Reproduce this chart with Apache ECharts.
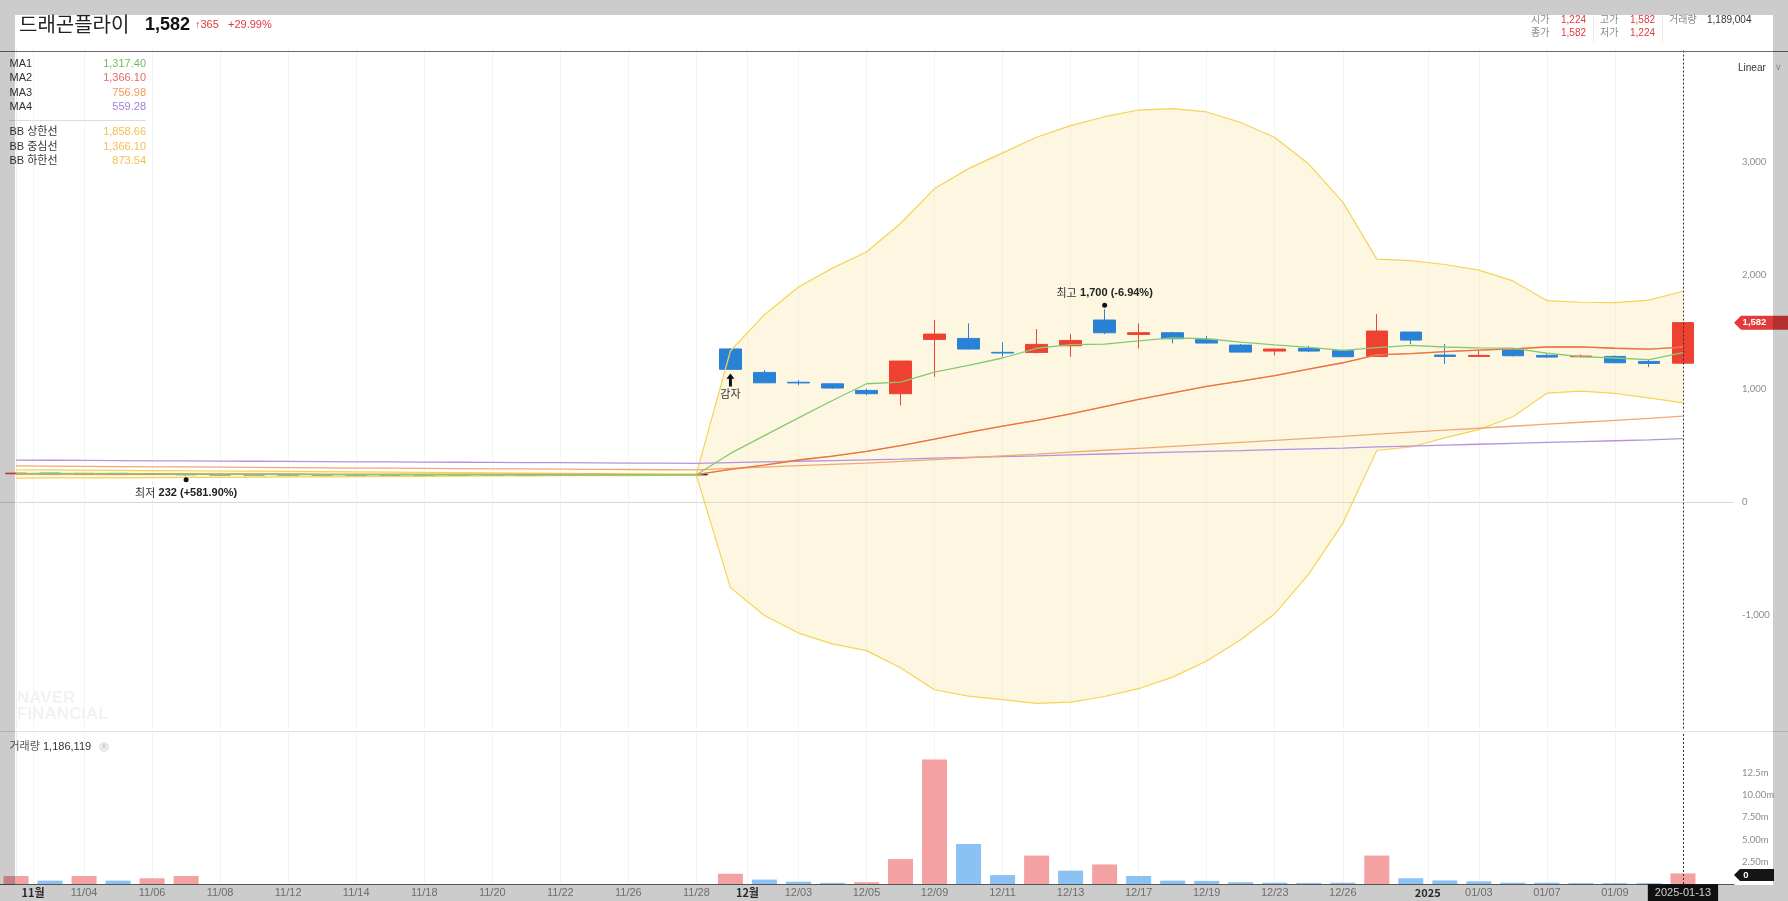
<!DOCTYPE html>
<html><head><meta charset="utf-8">
<script src="https://cdn.jsdelivr.net/npm/echarts@6/dist/echarts.min.js"></script>
<style>html,body{margin:0;padding:0;background:#fff;}#c{width:1788px;height:901px;}</style>
</head><body><div id="c"></div>
<script>
// ---------------- DATA ----------------
const dates = ['10/31','11/01','11/04','11/05','11/06','11/07','11/08','11/11','11/12','11/13','11/14','11/15','11/18','11/19','11/20','11/21','11/22','11/25','11/26','11/27','11/28','11/29','12/02','12/03','12/04','12/05','12/06','12/09','12/10','12/11','12/12','12/13','12/16','12/17','12/18','12/19','12/20','12/23','12/24','12/26','12/27','12/30','01/02','01/03','01/06','01/07','01/08','01/09','01/10','01/13'];
// [open, close, low, high]
const candles = [
 [248,254,245,258],[254,247,245,256],[246,252,244,256],[252,245,241,253],[246,243,238,249],[243,240,232,245],
 [240,240,240,240],[240,240,240,240],[240,240,240,240],[240,240,240,240],[240,240,240,240],[240,240,240,240],
 [240,240,240,240],[240,240,240,240],[240,240,240,240],[240,240,240,240],[240,240,240,240],[240,240,240,240],
 [240,240,240,240],[240,240,240,240],[240,240,240,240],
 [1350,1170,1165,1355],[1143,1051,1050,1163],[1056,1050,1030,1075],[1042,1005,998,1042],[984,955,940,1000],
 [955,1243,852,1243],[1434,1481,1104,1605],[1443,1349,1345,1575],[1320,1314,1281,1408],[1319,1390,1310,1525],
 [1378,1425,1281,1481],[1605,1493,1481,1700],[1478,1493,1355,1575],[1493,1440,1399,1501],[1434,1402,1399,1465],
 [1384,1322,1322,1393],[1331,1349,1293,1349],[1355,1331,1322,1378],[1334,1281,1281,1346],[1284,1508,1284,1657],
 [1499,1428,1393,1499],[1296,1284,1216,1393],[1284,1293,1284,1334],[1346,1290,1284,1355],[1293,1278,1272,1305],
 [1281,1287,1275,1300],[1284,1228,1228,1293],[1240,1222,1190,1258],[1224,1582,1224,1582]
];
const volumes = [900000,380000,900000,380000,640000,900000,
 0,0,0,0,0,0,0,0,0,0,0,0,0,0,0,
 1150000,500000,260000,130000,200000,2800000,14000000,4500000,1000000,3200000,
 1500000,2200000,900000,380000,350000,200000,150000,120000,150000,3200000,
 640000,400000,300000,150000,150000,100000,100000,100000,1190000];
const volumeUp = [1,0,1,0,1,1, 0,0,0,0,0,0,0,0,0,0,0,0,0,0,0,
 1,0,0,0,1,1,1,0,0,1, 0,1,0,0,0,0,0,0,0,1, 0,0,0,0,0,0,0,0,1];
const ma1 = [250,251,250,249,247,245,244,243,242,241,240,240,240,240,240,240,240,240,240,240,240,
 428,585,742,895,1043,1058,1145,1204,1270,1356,1388,1393,1422,1447,1440,1410,1385,1363,1338,1362,
 1381,1367,1360,1358,1312,1283,1270,1256,1317];
const ma2 = [247,247,247,246,246,246,245,245,245,244,244,244,243,243,243,242,242,242,241,241,241,
 288,325,370,405,447,497,554,614,668,720,777,841,905,962,1019,1066,1114,1172,1228,1298,
 1308,1327,1339,1350,1367,1369,1356,1349,1366];
const ma3 = [318,316,314,312,310,309,307,305,303,301,299,298,296,294,292,291,289,288,286,284,282,
 296,308,320,331,342,357,374,390,406,422,439,456,473,490,508,526,544,561,579,598,
 616,633,650,668,686,703,720,737,757];
const ma4 = [369,368,366,365,363,362,360,359,357,356,354,353,351,350,349,347,346,345,343,342,340,
 347,353,359,365,371,378,386,393,400,407,415,423,431,439,446,453,461,468,475,485,
 493,501,509,517,525,533,540,548,559];
const bbUpper = [284,282,281,279,277,275,273,271,269,267,265,263,261,259,257,255,253,251,250,248,247,
 1332,1652,1897,2063,2206,2457,2765,2941,3080,3218,3320,3399,3458,3470,3441,3348,3215,2981,2645,2142,
 2130,2095,2045,1950,1777,1762,1758,1780,1859];
const bbLower = [210,212,213,213,215,217,217,219,221,221,223,225,225,227,229,229,231,233,232,234,235,
 -756,-1002,-1157,-1253,-1312,-1463,-1657,-1713,-1744,-1778,-1766,-1717,-1648,-1546,-1403,-1216,-987,-637,-189,454,
 485,565,638,752,960,977,957,918,874];
const priceTicks = [-1000,0,1000,2000,3000];
const volumeTickLabels = {2500000:'2.50m',5000000:'5.00m',7500000:'7.50m',10000000:'10.00m',12500000:'12.5m'};
const axisLabelDates = ['11/04','11/06','11/08','11/12','11/14','11/18','11/20','11/22','11/26','11/28','12/03','12/05','12/09','12/11','12/13','12/17','12/19','12/23','12/26','01/03','01/07','01/09'];
const monthLabels = {'11/01':'11월','12/02':'12월','01/02':'2025'};
const lastDateLabel = {'01/13':'2025-01-13'};
const highMark = {date:'12/16', value:1700, text:'1,700 (-6.94%)'};
const lowMark = {date:'11/07', value:232, text:'232 (+581.90%)'};
const eventMark = {date:'11/29', value:1165, text:'감자'};
const legendItems = [['MA1','1,317.40','#6cbf5a'],['MA2','1,366.10','#e86a6a'],['MA3','756.98','#f09a5c'],['MA4','559.28','#a57fd8']];
const bbLegendItems = [['BB 상한선','1,858.66','#f2c14e'],['BB 중심선','1,366.10','#f2c14e'],['BB 하한선','873.54','#f2c14e']];
const stockName = '드래곤플라이';
const lastPrice = '1,582', change = '365', changePct = '+29.99%';
const infoRow1 = [['시가','1,224'],['고가','1,582'],['거래량','1,189,004']];
const infoRow2 = [['종가','1,582'],['저가','1,224']];
const volumeTitle = ['거래량','1,186,119'];

// ---------------- BUILD ----------------
const FONT = '"Liberation Sans","Noto Sans CJK KR",sans-serif';
const cats = dates.concat(['']);
const xMax = cats.length - 0.5;
const gridLineX = [];
dates.forEach((d,i)=>{ if (monthLabels[d]) gridLineX.push(i-0.5); else if (axisLabelDates.includes(d)) gridLineX.push(i); });
const lastIdx = dates.length - 1;
const UP='#ee4132', DOWN='#2a82d7';
const gridLineStyle = {color:'#f3f4f6', width:1, type:'solid'};

function lineSeries(name, data, color, width){
  return {name, type:'line', xAxisIndex:0, yAxisIndex:0, data, symbol:'none', silent:true,
    lineStyle:{color, width:width||1.3}, z:4};
}
const graphics = [];
function txt(x,y,text,font,fill,align){
  graphics.push({type:'text', x, y, z:10, silent:true, style:{text, font, fill, textAlign:align||'left', textVerticalAlign:'middle', align:align||'left', verticalAlign:'middle'}});
}
// separators
graphics.push({type:'line', z:10, silent:true, shape:{x1:0,y1:51.5,x2:1788,y2:51.5}, style:{stroke:'#6a6a6a', lineWidth:1}});
graphics.push({type:'line', z:10, silent:true, shape:{x1:0,y1:731.5,x2:1788,y2:731.5}, style:{stroke:'#dfe3e8', lineWidth:1}});
graphics.push({type:'line', z:10, silent:true, shape:{x1:1593.5,y1:15,x2:1593.5,y2:42}, style:{stroke:'#eeeeee', lineWidth:1}});
graphics.push({type:'line', z:10, silent:true, shape:{x1:1662.5,y1:15,x2:1662.5,y2:42}, style:{stroke:'#eeeeee', lineWidth:1}});
// header
txt(19,24,stockName,'20px "Noto Sans CJK KR"','#222');
txt(145,25,lastPrice,'bold 18px "Liberation Sans"','#111');
txt(195,25,'↑'+change,'11px '+FONT,'#e0393e');
txt(228,25,changePct,'11px '+FONT,'#e0393e');
const infoX = [1531,1600,1669], valX = [1561,1630,1707];
infoRow1.forEach((p,i)=>{ txt(infoX[i],20,p[0],'10px '+FONT,'#8a8a8a'); txt(valX[i],20,p[1],'10px '+FONT,i===2?'#333':'#e0393e'); });
infoRow2.forEach((p,i)=>{ txt(infoX[i],33,p[0],'10px '+FONT,'#8a8a8a'); txt(valX[i],33,p[1],'10px '+FONT,'#e0393e'); });
// legend
const legY = [64,78.3,92.7,106.7], bbY = [132.3,146.7,161];
legendItems.forEach((l,i)=>{ txt(9.5,legY[i],l[0],'11px '+FONT,'#333'); txt(146,legY[i],l[1],'11px '+FONT,l[2],'right'); });
graphics.push({type:'line', z:10, silent:true, shape:{x1:9,y1:120.5,x2:146,y2:120.5}, style:{stroke:'#dddddd', lineWidth:1}});
bbLegendItems.forEach((l,i)=>{ txt(9.5,bbY[i],l[0],'11px '+FONT,'#333'); txt(146,bbY[i],l[1],'11px '+FONT,l[2],'right'); });
txt(1738,68,'Linear','10px '+FONT,'#333');
txt(1775,68,'∨','9px "DejaVu Sans"','#aaa');
// watermark
txt(17,698,'NAVER','bold 17px "Liberation Sans"','#f2f2f2');
txt(17,714,'FINANCIAL','bold 17px "Liberation Sans"','#f2f2f2');
// volume title
txt(9.5,747,volumeTitle[0],'11px '+FONT,'#555');
txt(43,747,volumeTitle[1],'11px '+FONT,'#333');
graphics.push({type:'circle', z:10, silent:true, shape:{cx:104,cy:747,r:4.5}, style:{fill:'#f0f0f0', stroke:'#e0e0e0'}});
txt(104,747,'×','8px "DejaVu Sans"','#bbb','center');
// outer gray overlays
const ov = 'rgba(0,0,0,0.2)';
graphics.push({type:'rect', z:100, silent:true, shape:{x:0,y:0,width:1788,height:15}, style:{fill:ov}});
graphics.push({type:'rect', z:100, silent:true, shape:{x:0,y:15,width:15,height:886}, style:{fill:ov}});
graphics.push({type:'rect', z:100, silent:true, shape:{x:1773,y:15,width:15,height:886}, style:{fill:ov}});
graphics.push({type:'rect', z:100, silent:true, shape:{x:15,y:885,width:1758,height:16}, style:{fill:ov}});

const labelRich = {
  a:{color:'#333', fontSize:11, fontFamily:'"Noto Sans CJK KR"'},
  b:{color:'#222', fontSize:11, fontWeight:'bold', fontFamily:'"Liberation Sans"'}
};
const arrowPath = 'path://M4,0 L8,5 L5.5,5 L5.5,12 L2.5,12 L2.5,5 L0,5 Z';

const option = {
  animation:false,
  backgroundColor:'#ffffff',
  graphic: graphics,
  grid:[
    {left:-1, right:54, top:48.6, height:680, outerBoundsMode:'none'},
    {left:-1, right:54, top:732, height:152, outerBoundsMode:'none'}
  ],
  xAxis:[
    {type:'category', gridIndex:0, data:cats, boundaryGap:true, axisLine:{show:false}, axisTick:{show:false}, axisLabel:{show:false}, splitLine:{show:false}},
    {type:'category', gridIndex:1, data:cats, boundaryGap:true, axisLine:{show:true, lineStyle:{color:'#555', width:1}}, axisTick:{show:false}, splitLine:{show:false},
      axisLabel:{interval:0, margin:0, hideOverlap:false,
        formatter:(v)=>{ if (monthLabels[v]) return '{m|'+monthLabels[v]+'}'; if (lastDateLabel[v]) return '{d|'+lastDateLabel[v]+'}'; if (axisLabelDates.includes(v)) return '{n|'+v+'}'; return ''; },
        rich:{
          n:{color:'#8a8a8a', fontSize:11, fontFamily:'"Liberation Sans Narrow","Liberation Sans"', padding:[3,0,0,0]},
          m:{color:'#333', fontSize:11, fontWeight:'bold', fontFamily:'"Liberation Sans Narrow","Noto Sans CJK KR"', padding:[3,34,0,0]},
          d:{color:'#fff', backgroundColor:'#151515', fontSize:11, fontFamily:'"Liberation Sans"', padding:[3,7,3,7]}
        }}},
    {type:'value', gridIndex:0, min:-0.5, max:xMax, show:false},
    {type:'value', gridIndex:1, min:-0.5, max:xMax, show:false}
  ],
  yAxis:[
    {type:'value', gridIndex:0, position:'right', min:-2000, max:4000, interval:1000,
      axisLine:{show:true, lineStyle:{color:'#eceef1'}}, axisTick:{show:false}, splitLine:{show:false},
      axisLabel:{margin:8, color:'#8c8c8c', fontFamily:'Lato', fontSize:9.5, showMinLabel:false, showMaxLabel:false,
        formatter:(v)=> priceTicks.includes(v) ? v.toLocaleString('en-US') : ''}},
    {type:'value', gridIndex:1, position:'right', min:0, max:17100000, interval:2500000,
      axisLine:{show:true, lineStyle:{color:'#eceef1'}}, axisTick:{show:false}, splitLine:{show:false},
      axisLabel:{margin:8, color:'#8c8c8c', fontFamily:'Lato', fontSize:9.5, formatter:(v)=> volumeTickLabels[v] || ''}}
  ],
  series:[
    {type:'line', xAxisIndex:2, yAxisIndex:0, data:[], silent:true, z:0,
      markLine:{symbol:['none','none'], silent:true, animation:false, z:0, label:{show:false}, lineStyle:gridLineStyle,
        data: gridLineX.map(x=>({xAxis:x})).concat([{yAxis:0, lineStyle:{color:'#d8d8d8', width:1, type:'solid'}}])}},
    {type:'line', xAxisIndex:3, yAxisIndex:1, data:[], silent:true, z:0,
      markLine:{symbol:['none','none'], silent:true, animation:false, z:0, label:{show:false}, lineStyle:gridLineStyle,
        data: gridLineX.map(x=>({xAxis:x}))}},
    {name:'bbBase', type:'line', xAxisIndex:0, yAxisIndex:0, data:bbLower, stack:'bb', stackStrategy:'all', symbol:'none', silent:true, lineStyle:{width:0, opacity:0}, z:1},
    {name:'bbBand', type:'line', xAxisIndex:0, yAxisIndex:0, data:bbUpper.map((u,i)=>u-bbLower[i]), stack:'bb', stackStrategy:'all', symbol:'none', silent:true,
      lineStyle:{width:0, opacity:0}, areaStyle:{color:'rgba(250,230,160,0.30)', opacity:1}, z:1},
    {name:'candle', type:'candlestick', xAxisIndex:0, yAxisIndex:0, data:candles, barWidth:22, z:3,
      itemStyle:{color:UP, color0:DOWN, borderColor:UP, borderColor0:DOWN, borderColorDoji:'#333', borderWidth:1},
      markPoint:{animation:false, silent:true, data:[
        {coord:[highMark.date, highMark.value], symbol:'circle', symbolSize:5, symbolOffset:[0,-4], itemStyle:{color:'#111'},
          label:{show:true, position:'top', distance:4, formatter:'{a|최고} {b|'+highMark.text+'}', rich:labelRich}},
        {coord:[lowMark.date, lowMark.value], symbol:'circle', symbolSize:5, symbolOffset:[0,4], itemStyle:{color:'#111'},
          label:{show:true, position:'bottom', distance:5, formatter:'{a|최저} {b|'+lowMark.text+'}', rich:labelRich}},
        {coord:[eventMark.date, eventMark.value], symbol:arrowPath, symbolSize:[8,13], symbolOffset:[0,10], itemStyle:{color:'#111'},
          label:{show:true, position:'bottom', distance:2, color:'#333', fontSize:11, fontFamily:'"Noto Sans CJK KR"', formatter:eventMark.text}}
      ]}},
    lineSeries('BB 상한선', bbUpper, '#f5d453', 1.2),
    lineSeries('BB 하한선', bbLower, '#f5d453', 1.2),
    lineSeries('MA4', ma4, '#b592e0'),
    lineSeries('MA3', ma3, '#f2a873'),
    lineSeries('BB 중심선', ma2, '#f5c34a'),
    lineSeries('MA2', ma2, '#ea6f4c'),
    lineSeries('MA1', ma1, '#86c96f'),
    {name:'volume', type:'bar', xAxisIndex:1, yAxisIndex:1, barWidth:25, silent:true, z:3,
      data: volumes.map((v,i)=>({value:v, itemStyle:{color: volumeUp[i] ? '#f4a1a1' : '#8cc1f3'}}))},
    {type:'line', xAxisIndex:2, yAxisIndex:0, data:[], silent:true, z:6,
      markLine:{symbol:['none','none'], silent:true, animation:false, label:{show:false},
        lineStyle:{color:'#333', width:1, type:[2,2]}, data:[{xAxis:lastIdx}]},
      markPoint:{silent:true, animation:false, data:[
        {coord:[xMax, candles[lastIdx][1]], symbol:'path://M0,7 L7,0 L55,0 L55,14 L7,14 Z', symbolSize:[55,14], symbolOffset:['50%',0],
          itemStyle:{color:'#e23b3b'}, label:{show:true, position:'inside', offset:[-7,0], color:'#fff', fontSize:9.5, fontWeight:'bold', fontFamily:'"Liberation Sans"', formatter:candles[lastIdx][1].toLocaleString('en-US')}}
      ]}},
    {type:'line', xAxisIndex:3, yAxisIndex:1, data:[], silent:true, z:6,
      markLine:{symbol:['none','none'], silent:true, animation:false, label:{show:false},
        lineStyle:{color:'#333', width:1, type:[2,2]}, data:[{xAxis:lastIdx}]},
      markPoint:{silent:true, animation:false, data:[
        {coord:[xMax, 0], symbol:'path://M0,6 L6,0 L40,0 L40,12 L6,12 Z', symbolSize:[40,12], symbolOffset:['50%',-9],
          itemStyle:{color:'#151515'}, label:{show:true, position:'inside', offset:[-8,0], color:'#fff', fontSize:9.5, fontWeight:'bold', fontFamily:'"Liberation Sans"', formatter:'0'}}
      ]}}
  ]
};
const chart = echarts.init(document.getElementById('c'), null, {renderer:'canvas'});
chart.setOption(option);
</script>
</body></html>
